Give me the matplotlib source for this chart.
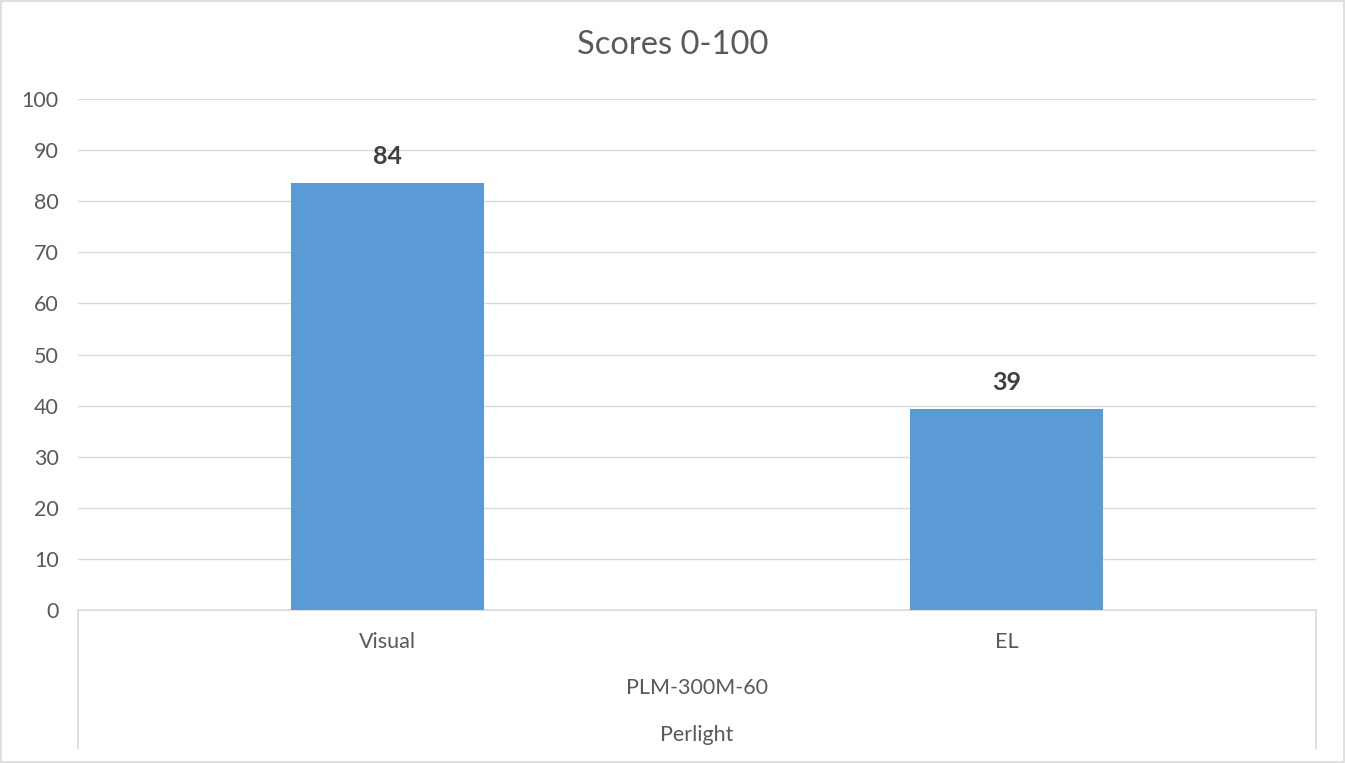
import matplotlib.pyplot as plt
import matplotlib.transforms as mtransforms

categories = ["Visual", "EL"]
scores = [83.6, 39.3]
group_label = "PLM-300M-60"
maker_label = "Perlight"
yticks = [0, 10, 20, 30, 40, 50, 60, 70, 80, 90, 100]

plt.rcParams['font.family'] = ['Lato', 'DejaVu Sans']

fig = plt.figure(figsize=(13.45, 7.63), dpi=100)
ax = fig.add_axes([0.058, 0.2005, 0.9204, 0.6697])

x = range(len(categories))
ax.bar(x, scores, width=0.313, color='#5b9bd5', zorder=3)
for xi, v in zip(x, scores):
    ax.text(xi, v + 3.0, "%.0f" % v, ha='center', va='bottom',
            fontsize=18, fontweight='bold', color='#404040')

ax.set_xlim(-0.5, len(categories) - 0.5)
ax.set_ylim(0, 100)
ax.set_yticks(yticks)
ax.yaxis.grid(True, color='#d9d9d9', linewidth=1, zorder=0)
ax.tick_params(axis='y', length=0, labelsize=15.5, labelcolor='#595959', pad=14)
ax.set_xticks([])
for side in ['top', 'right', 'left']:
    ax.spines[side].set_visible(False)
ax.spines['bottom'].set_color('#d9d9d9')
ax.spines['bottom'].set_linewidth(1.2)

# multi-level category axis
trans = mtransforms.blended_transform_factory(ax.transData, ax.transAxes)
for xi, c in zip(x, categories):
    ax.text(xi, -0.063, c, transform=trans, ha='center', va='center',
            fontsize=15.5, color='#595959')
ax.text(0.5, -0.153, group_label, transform=ax.transAxes, ha='center',
        va='center', fontsize=15.5, color='#595959')
ax.text(0.5, -0.245, maker_label, transform=ax.transAxes, ha='center',
        va='center', fontsize=15.5, color='#595959')
for xa in [0, 1]:
    ax.plot([xa, xa], [0, -0.27], transform=ax.transAxes, color='#d9d9d9',
            linewidth=1.2, clip_on=False)

fig.suptitle("Scores 0-100", y=0.941, va='center', fontsize=23.5, color='#595959')

# chart border
fig.patches.append(plt.Rectangle((0.001, 0.001), 0.998, 0.998, transform=fig.transFigure,
                                 fill=False, edgecolor='#d9d9d9', linewidth=1.2))

fig.savefig("out.png", dpi=100)
